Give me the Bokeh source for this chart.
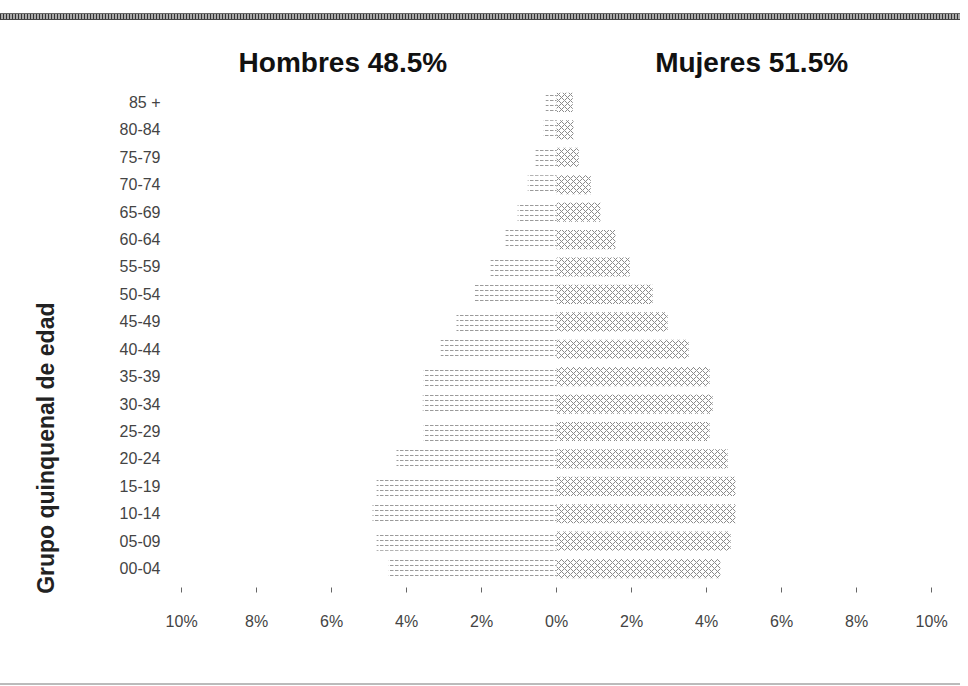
import math
from bokeh.plotting import figure
from bokeh.layouts import column
from bokeh.models import Div, FixedTicker, Range1d
from bokeh.core.properties import value
from bokeh.embed import file_html
from bokeh.resources import INLINE

# ---- data ----
ages = ["00-04", "05-09", "10-14", "15-19", "20-24", "25-29", "30-34", "35-39",
        "40-44", "45-49", "50-54", "55-59", "60-64", "65-69", "70-74", "75-79",
        "80-84", "85 +"]
male = [4.48, 4.80, 4.91, 4.80, 4.27, 3.55, 3.57, 3.55, 3.09, 2.67, 2.19, 1.76,
        1.36, 1.04, 0.77, 0.56, 0.35, 0.29]
female = [4.37, 4.64, 4.77, 4.77, 4.56, 4.08, 4.16, 4.08, 3.52, 2.96, 2.56, 1.95,
          1.57, 1.17, 0.91, 0.59, 0.45, 0.43]
x_ticks = [-10, -8, -6, -4, -2, 0, 2, 4, 6, 8, 10]
x_tick_labels = ["10%", "8%", "6%", "4%", "2%", "0%", "2%", "4%", "6%", "8%", "10%"]
titles = ["Hombres 48.5%", "Mujeres 51.5%"]
title_x = [-5.7, 5.2]
y_title = "Grupo quinquenal de edad"

ypos = list(range(len(ages)))
male_left = [-v for v in male]

FONT = "Liberation Sans"

p = figure(width=960, height=651, output_backend="svg", toolbar_location=None,
           x_range=Range1d(-10.35, 10.37), y_range=Range1d(-0.69, 19.26),
           min_border_left=168, min_border_right=15, min_border_top=18,
           min_border_bottom=86)
p.outline_line_color = None
p.grid.visible = False
p.background_fill_color = "white"
p.border_fill_color = "white"

# bars
p.hbar(y=ypos, left=male_left, right=0, height=0.7, fill_color=None, line_color=None,
       hatch_pattern="horizontal_dash", hatch_scale=5, hatch_color="#9a9a9a",
       hatch_weight=1)
p.hbar(y=ypos, left=0, right=female, height=0.7, fill_color=None, line_color=None,
       hatch_pattern="diagonal_cross", hatch_scale=6, hatch_color="#8a8a8a",
       hatch_weight=1)

# titles
p.text(x=title_x, y=[18.46, 18.46], text=titles, text_align="center",
       text_baseline="middle", text_font=value(FONT),
       text_font_style="bold", text_font_size="28px", text_color="#111111")

# x axis
p.xaxis.ticker = FixedTicker(ticks=x_ticks)
p.xaxis.major_label_overrides = {t: l for t, l in zip(x_ticks, x_tick_labels)}
p.xaxis.axis_line_color = None
p.xaxis.major_tick_in = 0
p.xaxis.major_tick_out = 5
p.xaxis.major_tick_line_color = "#666666"
p.xaxis.minor_tick_line_color = None
p.xaxis.major_label_standoff = 20
p.xaxis.major_label_text_font = FONT
p.xaxis.major_label_text_font_size = "16px"
p.xaxis.major_label_text_color = "#444444"

# y axis
yax = p.yaxis[0]
yax.ticker = FixedTicker(ticks=ypos)
yax.major_label_overrides = {i: a for i, a in zip(ypos, ages)}
yax.axis_line_color = None
yax.major_tick_line_color = None
yax.minor_tick_line_color = None
yax.major_tick_in = 0
yax.major_tick_out = 0
yax.major_label_standoff = 8
yax.major_label_text_font = FONT
yax.major_label_text_font_size = "16px"
yax.major_label_text_color = "#444444"
# trailing non-breaking spaces shift the centred label down toward the bottom
yax.axis_label = y_title + "\u00a0" * 42
yax.axis_label_text_font = FONT
yax.axis_label_text_font_style = "bold"
yax.axis_label_text_font_size = "23px"
yax.axis_label_text_color = "#222222"
yax.axis_label_standoff = 58

top = Div(text='<div style="margin-top:13px;height:7px;width:960px;'
               'background:repeating-linear-gradient(90deg,#333 0 1px,#aaa 1px 3px);'
               'border-top:1px solid #666;border-bottom:1px solid #444"></div>',
          width=960, height=22, margin=0)
bottom = Div(text='<div style="margin-top:8px;height:2px;width:960px;background:#bbbbbb"></div>',
             width=960, height=12, margin=0)

layout = column(top, p, bottom, spacing=0)
open("out.html", "w").write(file_html(layout, INLINE))
